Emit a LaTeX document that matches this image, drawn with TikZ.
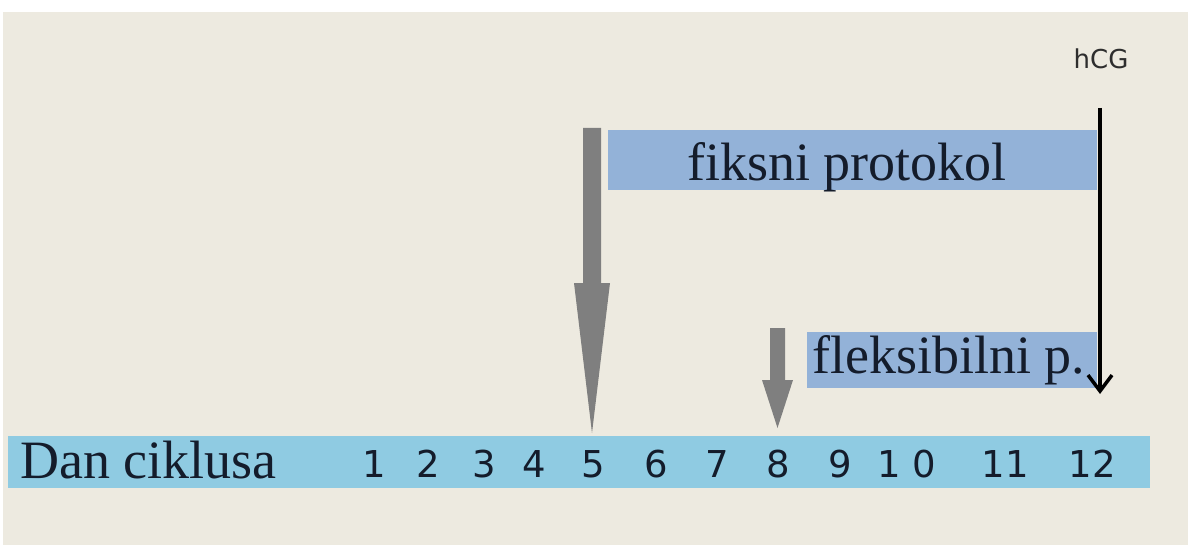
\documentclass[tikz,border=0pt]{standalone}
\usepackage{fontspec}
\setmainfont{Liberation Serif}
\newfontfamily\dv{DejaVu Sans}
\usetikzlibrary{arrows.meta,calc}
\definecolor{bgbeige}{HTML}{EDEAE0}
\definecolor{barblue}{HTML}{8FCBE2}
\definecolor{boxblue}{HTML}{93B2D8}
\definecolor{arrgray}{HTML}{7F7F7F}
\definecolor{inkdark}{HTML}{141C2B}
\definecolor{hcgink}{HTML}{2E2E2E}
\tikzset{
  bigtext/.style={font=\fontsize{54}{60}\selectfont, text=inkdark, inner sep=0pt, anchor=base west},
  daynum/.style={font=\dv\fontsize{37}{40}\selectfont, text=inkdark, inner sep=0pt, anchor=base},
  bandbox/.style={fill=boxblue, draw=none, inner sep=0pt, anchor=north west},
  blockarrow/.style={fill=arrgray, draw=none},
}
\begin{document}
\begin{tikzpicture}[x=1pt,y=-1pt]
\useasboundingbox (0,0) rectangle (1188,545);
\fill[white] (0,0) rectangle (1188,545);
\fill[bgbeige] (3,12) rectangle (1188,545);

% day bar
\node[fill=barblue, inner sep=0pt, minimum width=1142pt, minimum height=52pt, anchor=north west] (bar) at (8,436) {};
\node[bigtext] (dan) at (20,478) {Dan ciklusa};
\node[daynum] (d1) at (374,477) {1};
\node[daynum] (d2) at (428,477) {2};
\node[daynum] (d3) at (484,477) {3};
\node[daynum] (d4) at (534,477) {4};
\node[daynum] (d5) at (593,477) {5};
\node[daynum] (d6) at (656,477) {6};
\node[daynum] (d7) at (717,477) {7};
\node[daynum] (d8) at (778,477) {8};
\node[daynum] (d9) at (840,477) {9};
\node[daynum] (d10) at (907,477) {1 0};
\node[daynum] (d11) at (1005,477) {11};
\node[daynum] (d12) at (1092,477) {12};

% protocol boxes
\node[bandbox, minimum width=489pt, minimum height=60pt] (fixbox) at (608,130) {};
\node[bigtext] (fixlbl) at (687,181) {fiksni protokol};
\node[bandbox, minimum width=290pt, minimum height=56pt] (flexbox) at (807,332) {};
\node[bigtext] (flexlbl) at (812,373) {fleksibilni p.};

% hCG
\node[font=\dv\fontsize{26}{30}\selectfont, text=hcgink, inner sep=0pt, anchor=base] (hcg) at (1101,69) {hCG};

% gray block arrows (shaft top and tip)
\coordinate (g1top) at (592,128);
\coordinate (g1tip) at (592,433);
\coordinate (g2top) at (777.5,328);
\coordinate (g2tip) at (777.5,428);
\fill[blockarrow] ($(g1top)+(-9,0)$) -- ($(g1top)+(9,0)$) -- ($(g1tip)+(9,-150)$) -- ($(g1tip)+(18,-150)$)
  -- (g1tip) -- ($(g1tip)+(-18,-150)$) -- ($(g1tip)+(-9,-150)$) -- cycle;
\fill[blockarrow] ($(g2top)+(-7.5,0)$) -- ($(g2top)+(7.5,0)$) -- ($(g2tip)+(7.5,-48)$) -- ($(g2tip)+(15.5,-48)$)
  -- (g2tip) -- ($(g2tip)+(-15.5,-48)$) -- ($(g2tip)+(-7.5,-48)$) -- cycle;

% black hCG arrow
\coordinate (htop) at (1100,108);
\coordinate (htip) at (1100,394);
\draw[black, line width=3.5pt, -{Straight Barb[length=16pt, width=24pt]}] (htop) -- (htip);
\end{tikzpicture}
\end{document}
